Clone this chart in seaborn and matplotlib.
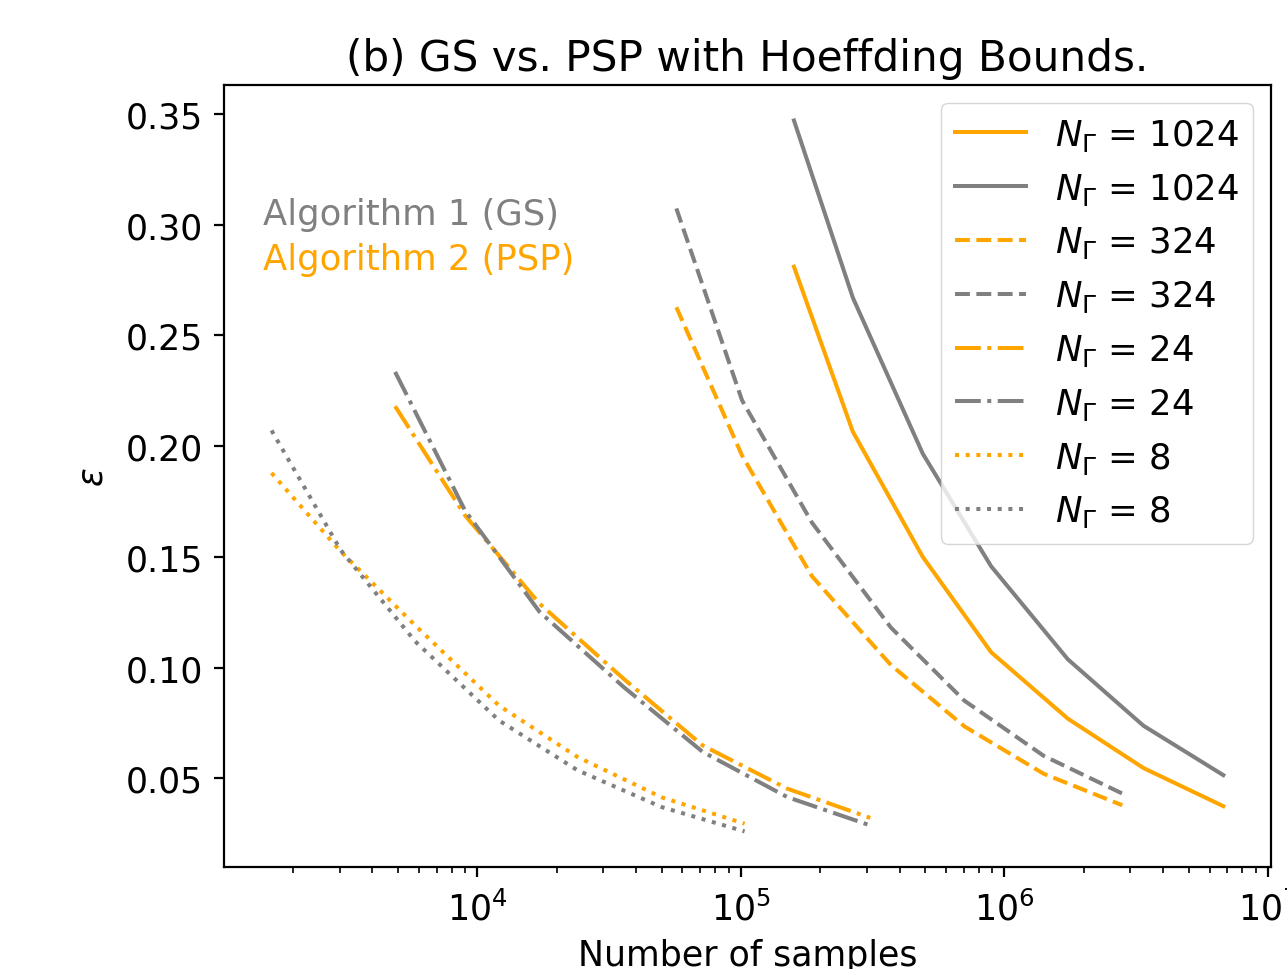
import matplotlib
matplotlib.use('Agg')
import matplotlib.pyplot as plt
import seaborn as sns

# sample counts per N_Gamma
n_1024 = [1.59e5, 2.66e5, 4.90e5, 8.90e5, 1.74e6, 3.37e6, 6.77e6]
n_324 = [5.69e4, 1.01e5, 1.86e5, 3.71e5, 7.05e5, 1.41e6, 2.80e6]
n_24 = [4875, 8974, 17219, 35892, 71614, 149968, 309742]
n_8 = [1656, 3034, 5808, 12078, 23988, 50003, 103276]

# epsilon, Algorithm 2 (PSP) and Algorithm 1 (GS)
psp_1024 = [0.281, 0.2065, 0.150, 0.107, 0.077, 0.0547, 0.0375]
gs_1024 = [0.347, 0.267, 0.1966, 0.1458, 0.1038, 0.0738, 0.0515]
psp_324 = [0.2627, 0.1958, 0.1413, 0.1012, 0.0735, 0.0521, 0.0379]
gs_324 = [0.3073, 0.2207, 0.1655, 0.1181, 0.0851, 0.0602, 0.0432]
psp_24 = [0.218, 0.1688, 0.1289, 0.0950, 0.0649, 0.0454, 0.0322]
gs_24 = [0.2335, 0.1710, 0.1252, 0.0913, 0.0620, 0.0416, 0.0288]
psp_8 = [0.1879, 0.1524, 0.1191, 0.0829, 0.0597, 0.0415, 0.0296]
gs_8 = [0.2071, 0.1530, 0.1119, 0.0762, 0.0537, 0.0371, 0.0261]

plt.rcParams.update({
    'font.size': 25,
    'axes.linewidth': 1.6,
    'xtick.major.size': 7, 'xtick.minor.size': 4,
    'xtick.major.width': 1.6, 'xtick.minor.width': 1.2,
    'ytick.major.size': 7, 'ytick.major.width': 1.6,
    'xtick.major.pad': 10, 'ytick.major.pad': 8,
})

fig = plt.figure(figsize=(12.87, 9.7), dpi=100)
ax = fig.add_axes([0.174, 0.1052, 0.8135, 0.8062])
ax.set_xscale('log')

curves = [
    (n_1024, psp_1024, 'orange', '-', '1024'),
    (n_1024, gs_1024, 'gray', '-', '1024'),
    (n_324, psp_324, 'orange', '--', '324'),
    (n_324, gs_324, 'gray', '--', '324'),
    (n_24, psp_24, 'orange', '-.', '24'),
    (n_24, gs_24, 'gray', '-.', '24'),
    (n_8, psp_8, 'orange', ':', '8'),
    (n_8, gs_8, 'gray', ':', '8'),
]
for x, y, c, ls, lab in curves:
    sns.lineplot(x=x, y=y, color=c, linestyle=ls, lw=2.9,
                 label=r'$N_\Gamma$ = ' + lab, ax=ax)

ax.legend(loc='upper right', fontsize=25.6)

ax.text(0.0375, 0.822, 'Algorithm 1 (GS)', color='gray', fontsize=25.5,
        transform=ax.transAxes, va='baseline')
ax.text(0.0375, 0.765, 'Algorithm 2 (PSP)', color='orange', fontsize=25.5,
        transform=ax.transAxes, va='baseline')

ax.set_title('(b) GS vs. PSP with Hoeffding Bounds.', fontsize=30.3, pad=11)
ax.set_xlabel('Number of samples', labelpad=8)
ax.set_ylabel(r'$\varepsilon$', labelpad=12)

fig.savefig('out.png', dpi=100)
